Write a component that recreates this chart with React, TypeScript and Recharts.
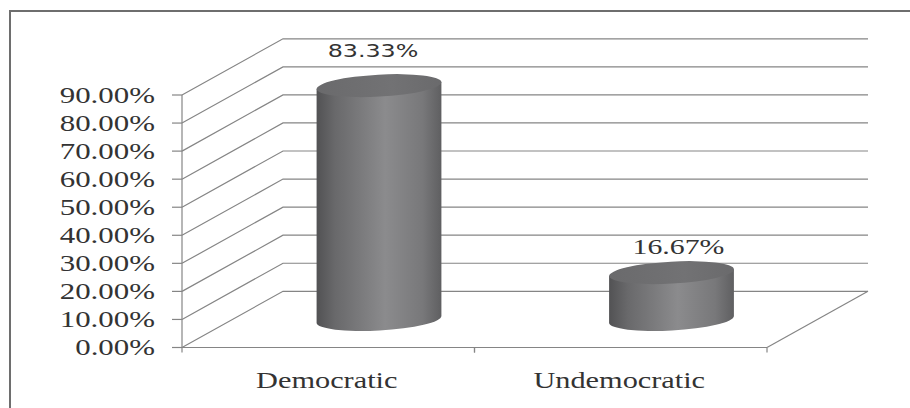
import React from 'react';
import { BarChart, Bar, XAxis, YAxis, CartesianGrid, LabelList } from 'recharts';

const categories = ['Democratic', 'Undemocratic'];
const shares = [83.33, 16.67];
const yTicks = [0, 10, 20, 30, 40, 50, 60, 70, 80, 90];
const valueLabels = ['83.33%', '16.67%'];

const data = categories.map((c, i) => ({ name: c, value: shares[i], label: valueLabels[i] }));

const DEPTH_X = 101;
const DEPTH_Y = 56.2;
const RY = 11;
const ROT = -3.2;
const LINE = '#858585';
const SERIF = 'Liberation Serif, serif';
const SANS = 'DejaVu Sans, sans-serif';

const labelLook = [
  { family: SANS, size: 18.3, sx: 1.3, gap: 18, dx: -6 },
  { family: SERIF, size: 21, sx: 1.42, gap: 7.5, dx: 7 },
];

const Cylinder = (props: any) => {
  const { x, y, width, height } = props;
  if (width == null || height == null) return null;
  const rx = width / 2;
  const cx = x + width / 2 + DEPTH_X / 2;
  const topY = y - DEPTH_Y / 2;
  const botY = y + height - DEPTH_Y / 2;
  const t = (ROT * Math.PI) / 180;
  const ex = rx * Math.cos(t);
  const ey = rx * Math.sin(t);
  const d = `M ${cx - ex} ${topY - ey} L ${cx - ex} ${botY - ey} A ${rx} ${RY} ${ROT} 0 0 ${cx + ex} ${botY + ey} L ${cx + ex} ${topY + ey} Z`;
  return (
    <g>
      <path d={d} fill="url(#cylBody)" />
      <ellipse cx={cx} cy={topY} rx={rx} ry={RY} transform={`rotate(${ROT} ${cx} ${topY})`} fill="url(#cylTop)" />
    </g>
  );
};

const ValueLabel = (props: any) => {
  const { x, y, width, index, value } = props;
  const look = labelLook[index] || labelLook[0];
  const cx = x + width / 2 + DEPTH_X / 2 + look.dx;
  const base = y - DEPTH_Y / 2 - RY - look.gap;
  return (
    <g transform={`translate(${cx},${base}) scale(${look.sx},1)`}>
      <text x={0} y={0} textAnchor="middle" style={{ fontFamily: look.family }} fontSize={look.size} fill="#333">
        {value}
      </text>
    </g>
  );
};

const YTick = (props: any) => {
  const { x, y, payload } = props;
  return (
    <g transform={`translate(${x},${y + 7.7}) scale(1.38,1)`}>
      <text x={0} y={0} textAnchor="end" style={{ fontFamily: SERIF }} fontSize={22.4} fill="#333">
        {`${Number(payload.value).toFixed(2)}%`}
      </text>
    </g>
  );
};

const XTick = (props: any) => {
  const { x, y, payload } = props;
  const off = payload && payload.offset ? payload.offset : 146.25;
  return (
    <g>
      <line x1={x - off} y1={y - 5} x2={x - off} y2={y} stroke={LINE} strokeWidth={1.2} />
      <line x1={x + off} y1={y - 5} x2={x + off} y2={y} stroke={LINE} strokeWidth={1.2} />
      <g transform={`translate(${x - 1.5},${y + 35.5}) scale(1.29,1)`}>
        <text x={0} y={0} textAnchor="middle" style={{ fontFamily: SERIF }} fontSize={23.5} fill="#333">
          {payload.value}
        </text>
      </g>
    </g>
  );
};

const GridLine = (props: any) => {
  const { x1, x2, y1, y, height } = props;
  const isFloor = Math.abs(y1 - (y + height)) < 1;
  const bx = x1 + DEPTH_X;
  const by = y1 - DEPTH_Y;
  return (
    <g>
      <polyline points={`${x1},${y1} ${bx},${by} ${x2 + DEPTH_X},${by}`} fill="none" stroke={LINE} strokeWidth={1.2} />
      {isFloor && (
        <line x1={x2} y1={y1} x2={x2 + DEPTH_X} y2={by} stroke={LINE} strokeWidth={1.2} />
      )}
    </g>
  );
};

export default function App() {
  return (
    <div style={{ position: 'absolute', left: 0, top: 0, width: 910, height: 408, background: '#fff' }}>
      <div
        style={{
          position: 'absolute',
          left: 9,
          top: 10,
          width: 901,
          height: 398,
          borderTop: '2px solid #6e6e6e',
          borderLeft: '2px solid #6e6e6e',
          boxSizing: 'border-box',
        }}
      />
      <div style={{ position: 'absolute', left: 0, top: 0 }}>
        <BarChart
          width={910}
          height={408}
          data={data}
          margin={{ top: 95, right: 143, bottom: 0, left: 0 }}
          barSize={125}
        >
          <defs>
            <linearGradient id="cylBody" x1="0" y1="0" x2="1" y2="0">
              <stop offset="0" stopColor="#525254" />
              <stop offset="0.15" stopColor="#69696b" />
              <stop offset="0.55" stopColor="#8b8b8d" />
              <stop offset="0.85" stopColor="#78787a" />
              <stop offset="1" stopColor="#5f5f61" />
            </linearGradient>
            <linearGradient id="cylTop" x1="0" y1="0" x2="1" y2="0">
              <stop offset="0" stopColor="#6a6a6c" />
              <stop offset="0.6" stopColor="#727274" />
              <stop offset="1" stopColor="#6a6a6c" />
            </linearGradient>
          </defs>
          <CartesianGrid horizontal={GridLine as any} vertical={false} />
          <YAxis
            width={182}
            domain={[0, 90]}
            ticks={yTicks}
            interval={0}
            tickSize={10}
            tickMargin={17}
            tick={YTick}
            axisLine={{ stroke: LINE, strokeWidth: 1.2 }}
            tickLine={{ stroke: LINE, strokeWidth: 1.2 }}
          />
          <XAxis
            dataKey="name"
            height={60.5}
            tickSize={5}
            tickMargin={0}
            tickLine={false}
            tick={XTick}
            interval={0}
            axisLine={{ stroke: LINE, strokeWidth: 1.2 }}
          />
          <Bar dataKey="value" shape={Cylinder} isAnimationActive={false}>
            <LabelList dataKey="label" content={ValueLabel} />
          </Bar>
        </BarChart>
      </div>
    </div>
  );
}
